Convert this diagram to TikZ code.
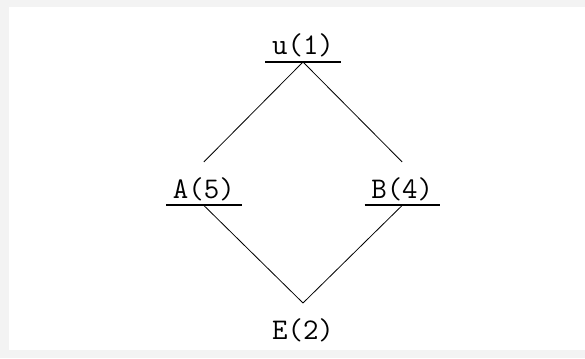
\documentclass[tikz,border=0pt]{standalone}
\usepackage{tikz}
\usetikzlibrary{positioning}
\definecolor{framegray}{HTML}{F3F3F3}

\begin{document}
\begin{tikzpicture}[
  font=\ttfamily\fontsize{30}{32}\selectfont,
  vertex/.style={minimum width=75pt, inner ysep=2pt, text height=34pt, text depth=5pt,
    append after command={(\tikzlastnode.south west) edge[line width=1.8pt] (\tikzlastnode.south east)}},
  leaf/.style={minimum width=75pt, inner ysep=2pt, text height=34pt, text depth=5pt},
  edge/.style={draw, line width=0.8pt}]

  % frame
  \fill[framegray] (0,0) rectangle (585pt,358pt);
  \fill[white] (9pt,8pt) rectangle (585pt,351pt);
  \useasboundingbox (0,0) rectangle (585pt,358pt);

  \node[vertex, anchor=south] (u) at (303pt,296pt) {u(1)};
  \node[vertex, below left=100pt and 23.8pt of u] (a) {A(5)};
  \node[vertex, below right=100pt and 23.8pt of u] (b) {B(4)};
  \node[leaf, below=241pt of u] (e) {E(2)};

  \draw[edge] (u.south) -- (a.north);
  \draw[edge] (u.south) -- (b.north);
  \draw[edge] (a.south) -- (e.north);
  \draw[edge] (b.south) -- (e.north);
\end{tikzpicture}
\end{document}
